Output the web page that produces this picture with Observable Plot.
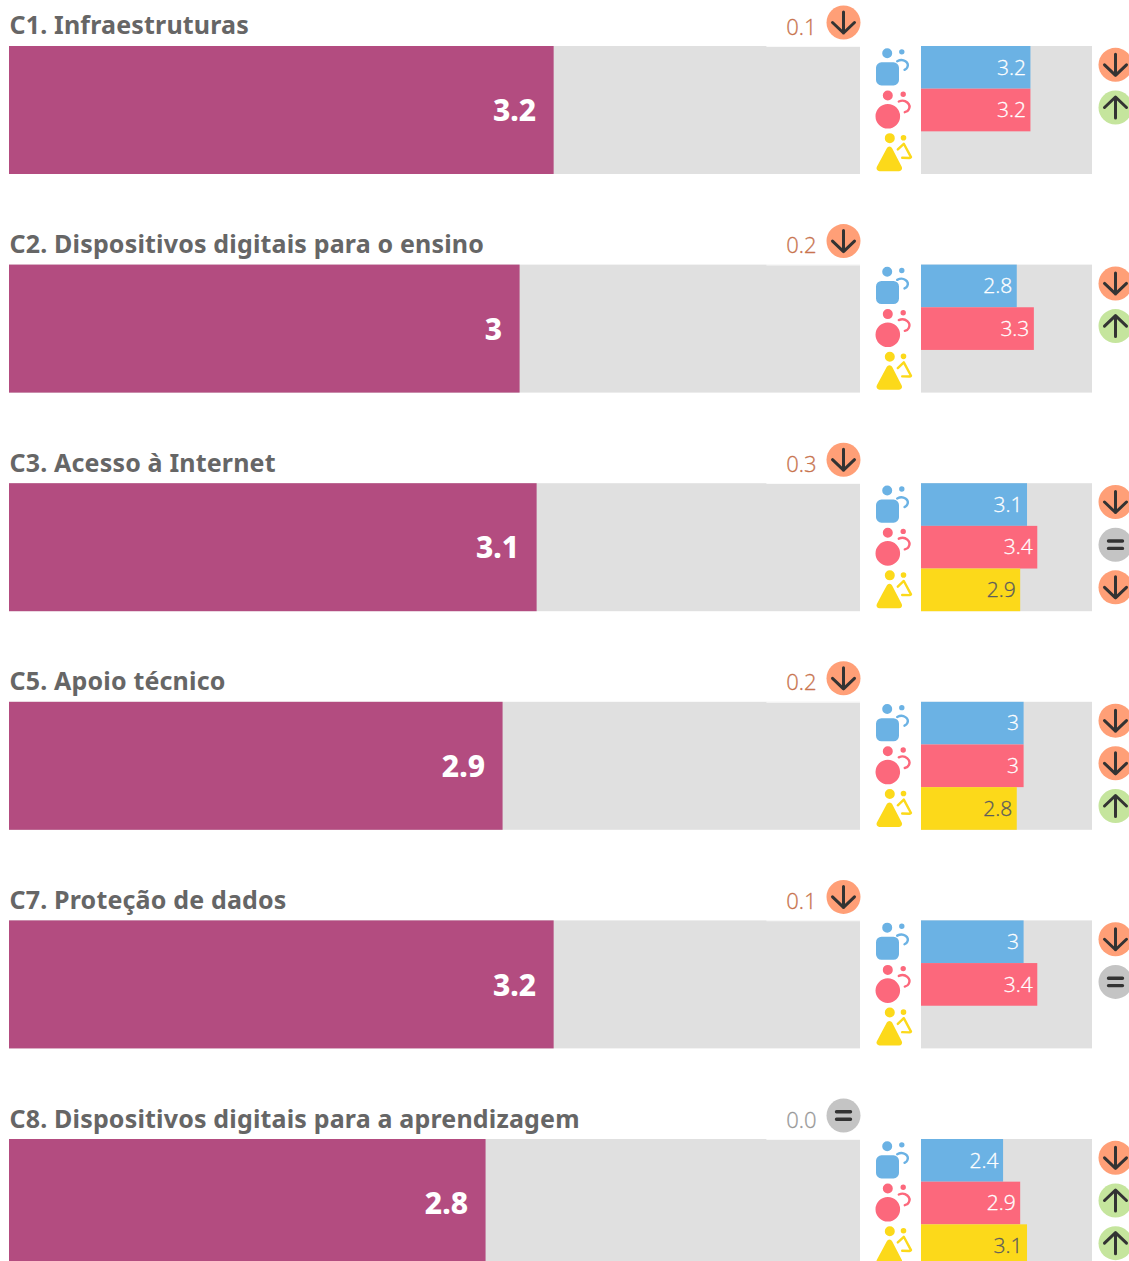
<!DOCTYPE html>
<html lang="pt">
<head>
<meta charset="utf-8">
<script src="https://cdn.jsdelivr.net/npm/d3@7"></script>
<script src="https://cdn.jsdelivr.net/npm/@observablehq/plot@0.6"></script>
<style>
html,body{margin:0;padding:0;background:#fff;overflow:hidden}
#chart{position:relative;width:1129px;height:1261px;overflow:hidden}
#chart svg{position:absolute;left:0;top:0;max-width:none;background:transparent}
.row-title text{letter-spacing:0.17px}
</style>
</head>
<body>
<div id="chart"></div>
<script>
const titles = ["C1. Infraestruturas","C2. Dispositivos digitais para o ensino","C3. Acesso à Internet","C5. Apoio técnico","C7. Proteção de dados","C8. Dispositivos digitais para a aprendizagem"];
const overall = [3.2,3,3.1,2.9,3.2,2.8];
const change = ["0.1","0.2","0.3","0.2","0.1","0.0"];
const changeTrend = ["down","down","down","down","down","same"];
const teachers = [3.2,2.8,3.1,3,3,2.4];
const students = [3.2,3.3,3.4,3,3.4,2.9];
const leaders = [null,null,2.9,2.8,null,3.1];
const teacherTrend = ["down","down","down","down","down","down"];
const studentTrend = ["up","up","same","down","same","up"];
const leaderTrend = [null,null,"down","up",null,"up"];
const groups = ["teachers","students","leaders"];

const TITLE_FONT = "'Noto Sans'";
const NUM_FONT = "'Open Sans'";
const BADGE = {down:"#ff9f77", up:"#c5e59d", same:"#c4c4c4"};
const GROUP = {teachers:"#6bb2e4", students:"#fc687c", leaders:"#fcd91a"};
const DARK = "#333333";

const mainRows = titles.map((t,i)=>({title:t,value:overall[i],change:change[i],trend:changeTrend[i]}));
const subRows = titles.flatMap((t,i)=>[
  {title:t,group:"teachers",value:teachers[i],trend:teacherTrend[i]},
  {title:t,group:"students",value:students[i],trend:studentTrend[i]},
  {title:t,group:"leaders",value:leaders[i],trend:leaderTrend[i]}
]);

const glyph = {
  down:{draw(c){c.moveTo(0,-10.5);c.lineTo(0,10.5);c.moveTo(-11,0);c.lineTo(0,10.5);c.lineTo(11,0);}},
  up:{draw(c){c.moveTo(0,10.5);c.lineTo(0,-10.5);c.moveTo(-11,0);c.lineTo(0,-10.5);c.lineTo(11,0);}},
  same:{draw(c){c.moveTo(-7,-3.7);c.lineTo(7,-3.7);c.moveTo(-7,3.7);c.lineTo(7,3.7);}}
};
function badges(data, opts){
  const marks=[];
  for(const k of ["down","up","same"]){
    const d=data.filter(r=>r.trend===k);
    marks.push(Plot.dot(d,{...opts,r:17,fill:BADGE[k],stroke:null}));
    marks.push(Plot.dot(d,{...opts,r:17,symbol:glyph[k],fill:"none",stroke:DARK,strokeWidth:k==="same"?3.4:3,strokeLinecap:"round",strokeLinejoin:"round"}));
  }
  return marks;
}

function roundPoly(c,pts,r){
  const n=pts.length, a=pts[n-1], b=pts[0];
  c.moveTo((a[0]+b[0])/2,(a[1]+b[1])/2);
  for(let i=0;i<n;i++){
    const p=pts[i], q=pts[(i+1)%n];
    c.arcTo(p[0],p[1],(p[0]+q[0])/2,(p[1]+q[1])/2,r);
  }
  c.closePath();
}
function disc(c,x,y,r){c.moveTo(x+r,y);c.arc(x,y,r,0,2*Math.PI);}

const iconFill = {
  teachers:{draw(c){disc(c,-34.3,-14.6,5);disc(c,-19.7,-16,2.7);roundPoly(c,[[-45.5,-5.5],[-22.5,-5.5],[-22.5,17.6],[-45.5,17.6]],5.5);}},
  students:{draw(c){disc(c,-33.7,-15,5);disc(c,-18.3,-16.3,2.7);disc(c,-33.7,5.7,12.3);}},
  leaders:{draw(c){disc(c,-31.7,-15,5);disc(c,-18,-15.4,2.8);roundPoly(c,[[-32,-10],[-17.5,18],[-47,18]],3);}}
};
const iconStroke = {
  teachers:{draw(c){c.moveTo(-24.3,-6.6);c.bezierCurveTo(-18,-10,-12,-5,-14.2,-0.5);c.quadraticCurveTo(-14.8,1,-17,2);}},
  students:{draw(c){c.moveTo(-22.7,-9);c.bezierCurveTo(-16,-12,-10,-6,-12.8,-1);c.quadraticCurveTo(-13.6,1,-16.7,1.7);}},
  leaders:{draw(c){c.moveTo(-23.7,-3.7);c.lineTo(-17.7,-9.4);c.lineTo(-10.5,4);c.quadraticCurveTo(-11,4.8,-12,4.8);c.lineTo(-19.3,4.6);}}
};

const changeColor = d=>d.trend==="same"?"#999999":"#c8744f";
const subColor = d=>d.group==="leaders"?"#5c5c5c":"#ffffff";

const left = Plot.plot({
  width:1129, height:1261, margin:0,
  x:{domain:[0,5], range:[9,860], axis:null},
  y:{domain:titles, range:[46,1267], paddingInner:0.4145, paddingOuter:0, align:0, round:false, axis:null},
  marks:[
    Plot.barX(mainRows,{y:"title",x:5,fill:"#e0e0e0"}),
    Plot.barX(mainRows,{y:"title",x1:4.45,x2:5,fill:"#fff",insetBottom:127.2}),
    Plot.barX(mainRows,{y:"title",x:"value",fill:"#b34c80"}),
    Plot.text(mainRows,{y:"title",x:"value",text:d=>String(d.value),textAnchor:"end",dx:-18,dy:1,fill:"#fff",fontFamily:TITLE_FONT,fontWeight:800,fontSize:30}),
    Plot.text(mainRows,{y:"title",x:0,text:"title",textAnchor:"start",dx:0,dy:-84,fill:"#666666",fontFamily:TITLE_FONT,fontWeight:700,fontSize:25,className:"row-title"}),
    Plot.text(mainRows,{y:"title",x:5,text:"change",textAnchor:"end",dx:-44,dy:-83,fill:changeColor,stroke:changeColor,strokeWidth:0.3,fontFamily:NUM_FONT,fontWeight:300,fontSize:22}),
    ...badges(mainRows,{y:"title",x:5,dx:-17,dy:-88})
  ]
});

const right = Plot.plot({
  width:1129, height:1261, margin:0,
  x:{domain:[0,5], range:[921,1092], axis:null},
  fy:{domain:titles, range:[46,1267], paddingInner:0.4145, paddingOuter:0, align:0, round:false, axis:null},
  y:{domain:groups, padding:0, round:false, axis:null},
  marks:[
    Plot.barX(mainRows,{fy:"title",x:5,fill:"#e0e0e0"}),
    Plot.barX(subRows.filter(d=>d.value!=null),{fy:"title",y:"group",x:"value",fill:d=>GROUP[d.group]}),
    Plot.text(subRows.filter(d=>d.value!=null),{fy:"title",y:"group",x:"value",text:d=>String(d.value),textAnchor:"end",dx:-5,dy:0,fill:subColor,stroke:subColor,strokeWidth:0.3,fontFamily:NUM_FONT,fontWeight:300,fontSize:21}),
    ...groups.flatMap(g=>{
      const d=subRows.filter(r=>r.group===g);
      return [
        Plot.dot(d,{fy:"title",y:"group",x:0,r:5,symbol:iconFill[g],fill:GROUP[g],stroke:null}),
        Plot.dot(d,{fy:"title",y:"group",x:0,r:5,symbol:iconStroke[g],fill:"none",stroke:GROUP[g],strokeWidth:2.4,strokeLinecap:"round",strokeLinejoin:"round"})
      ];
    }),
    ...badges(subRows,{fy:"title",y:"group",x:5,dx:23,dy:-3})
  ]
});

document.getElementById("chart").append(left,right);
</script>
</body>
</html>
